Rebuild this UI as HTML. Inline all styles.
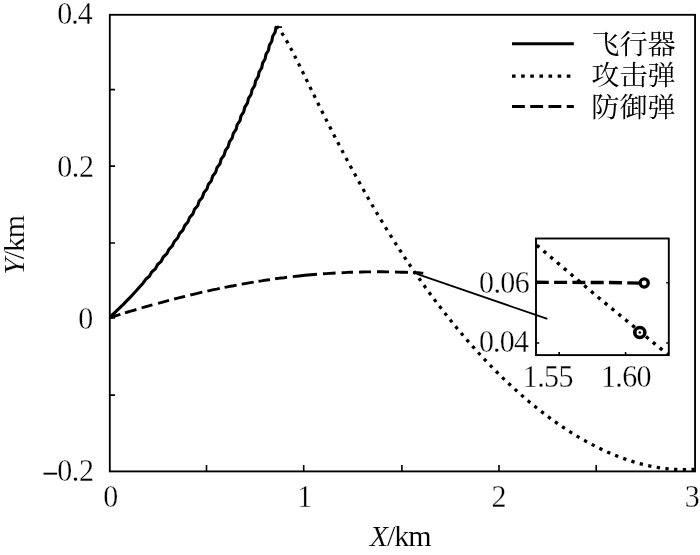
<!DOCTYPE html>
<html lang="zh"><head><meta charset="utf-8"><title>Trajectories</title>
<style>html,body{margin:0;padding:0;background:#fff;}body{width:700px;height:555px;overflow:hidden;}svg{display:block;will-change:transform;filter:grayscale(1);}text{font-family:"Liberation Serif",serif;fill:#000;stroke:#fff;stroke-width:0.3px;paint-order:fill stroke;}text.t{stroke-width:0.15px;}text.m{stroke:#000;stroke-width:0.5px;}text.c{font-family:"Liberation Serif","Noto Serif CJK SC",serif;stroke:none;}</style></head><body>
<svg width="700" height="555" viewBox="0 0 700 555" role="img" aria-label="Trajectories of aircraft, attack missile and defence missile">
<rect width="700" height="555" fill="#fff"/>
<rect x="109.80" y="14.80" width="585.25" height="456.60" fill="none" stroke="#000" stroke-width="1.85"/>
<path d="M206.50 471.40 v-6.40 M303.70 471.40 v-6.40 M401.90 471.40 v-6.40 M499.00 471.40 v-6.40 M596.20 471.40 v-6.40 M109.80 89.60 h5.20 M109.80 166.10 h5.20 M109.80 243.00 h5.20 M109.80 318.00 h5.20 M109.80 395.10 h5.20" stroke="#000" stroke-width="1.6" fill="none"/>
<text id="x0" transform="translate(103.25 507.00) scale(1 1.03)" font-size="30" letter-spacing="-1">0</text>
<text id="x1" transform="translate(297.25 507.00) scale(1 1.03)" font-size="30" letter-spacing="-1">1</text>
<text id="x2" transform="translate(491.49 507.00) scale(1 1.03)" font-size="30" letter-spacing="-1">2</text>
<text id="x3" transform="translate(684.68 507.00) scale(1 1.03)" font-size="30" letter-spacing="-1">3</text>
<text id="y04" transform="translate(57.15 24.00) scale(1 1.03)" font-size="30" letter-spacing="-0.913">0.4</text>
<text id="y02" transform="translate(57.15 177.00) scale(1 1.03)" font-size="30" letter-spacing="-0.334">0.2</text>
<text id="y0" transform="translate(78.26 329.00) scale(1 1.03)" font-size="30" letter-spacing="-1">0</text>
<text class="m" id="ymm" transform="translate(44.06 480.02) scale(1 1)" font-size="25.5" letter-spacing="-1">–</text>
<text id="ym02" transform="translate(57.18 481.00) scale(1 1.03)" font-size="30" letter-spacing="-0.352">0.2</text>
<text class="t" id="xlab" transform="translate(369.64 546.00) scale(1 1)" font-size="30" letter-spacing="-1.059"><tspan font-style="italic">X</tspan>/km</text>
<text class="t" id="ylab" transform="translate(23.88 274.82) rotate(-90)" font-size="30" letter-spacing="-1.158"><tspan font-style="italic">Y</tspan>/km</text>
<path d="M109.8 317.6 L112.5 316.8 L115.1 316.0 L117.8 315.1 L120.4 314.3 M125.0 312.9 L127.8 312.0 L130.7 311.2 L133.6 310.3 L136.4 309.5 M141.6 307.9 L144.3 307.2 L147.0 306.4 L149.7 305.6 L152.4 304.9 M158.1 303.3 L160.8 302.6 L163.6 301.8 L166.3 301.1 L169.0 300.4 M174.1 299.0 L176.8 298.3 L179.6 297.6 L182.3 297.0 L185.1 296.3 M190.3 295.0 L193.3 294.3 L196.3 293.6 L199.3 292.9 L202.3 292.2 M207.4 291.1 L210.5 290.4 L213.6 289.7 L216.7 289.1 L219.8 288.4 M224.6 287.4 L227.6 286.8 L230.6 286.2 L233.6 285.7 L236.6 285.1 M241.7 284.2 L244.7 283.6 L247.7 283.1 L250.7 282.6 L253.7 282.1 M258.5 281.3 L261.4 280.9 L264.2 280.4 L267.1 280.0 L270.0 279.6 M275.1 278.8 L278.1 278.4 L281.1 278.0 L284.1 277.7 L287.1 277.3 M292.8 276.6 L298.9 276.0 L304.9 275.3 L310.9 274.8 L317.0 274.3 M323.0 273.8 L326.1 273.6 L329.3 273.4 L332.5 273.2 L335.6 273.0 M341.6 272.7 L344.5 272.6 L347.3 272.4 L350.1 272.3 L353.0 272.2 M359.0 272.1 L362.0 272.0 L365.0 271.9 L368.0 271.9 L371.0 271.9 M377.0 271.8 L380.0 271.8 L383.0 271.8 L386.0 271.9 L389.0 271.9 M395.0 272.0 L398.2 272.1 L401.5 272.2 L404.8 272.3 L408.0 272.4 M413.0 272.6 L415.6 272.7 L418.1 272.8 L420.7 273.0 L423.3 273.1" fill="none" stroke="#000" stroke-width="2.9"/>
<path d="M109.8 317.2 L113.3 314.0 L116.8 310.7 L120.2 307.4 L123.6 304.1 L126.9 300.7 L130.2 297.3 L133.5 293.8 L136.7 290.3 L139.8 286.8 L143.0 283.2 L145.7 279.3 L149.4 276.3 L151.7 272.0 L155.4 268.8 L157.6 264.5 L161.2 261.3 L163.3 257.0 L166.9 253.7 L168.9 249.3 L172.3 245.9 L174.3 241.5 L177.7 238.0 L179.5 233.6 L182.9 230.1 L184.7 225.6 L187.9 222.0 L189.6 217.5 L192.9 213.9 L194.5 209.3 L197.7 205.7 L199.2 201.1 L202.3 197.4 L203.8 192.8 L206.9 189.1 L208.3 184.4 L211.4 180.7 L212.7 176.0 L215.7 172.2 L217.0 167.6 L220.0 163.7 L221.2 159.0 L224.1 155.2 L225.4 150.5 L228.2 146.6 L229.4 141.9 L232.2 138.0 L233.3 133.3 L236.1 129.3 L237.2 124.6 L240.0 120.6 L241.0 115.9 L243.7 111.9 L244.8 107.2 L247.4 103.1 L248.5 98.4 L251.1 94.4 L252.1 89.6 L254.7 85.6 L255.6 80.8 L258.2 76.7 L259.1 72.0 L261.7 67.9 L262.6 63.1 L265.1 59.0 L266.0 54.3 L268.5 50.2 L269.3 45.4 L271.8 41.3 L272.6 36.5 L275.1 32.3 L275.9 27.6 L276.8 26.4" fill="none" stroke="#000" stroke-width="3.1" stroke-linejoin="round"/>
<path d="M275.6 27.1 H282" fill="none" stroke="#000" stroke-width="1.7"/>
<path d="M276.80 26.34 L278.60 28.55 M281.73 32.94 L283.53 35.71 M286.32 40.34 L287.95 43.20 M290.55 47.94 L292.09 50.86 M294.57 55.65 L296.06 58.60 M298.47 63.43 L299.93 66.39 M302.31 71.24 L303.75 74.21 M306.11 79.06 L307.56 82.03 M309.92 86.88 L311.37 89.85 M313.81 94.84 L315.27 97.81 M317.73 102.79 L319.19 105.75 M321.67 110.73 L323.14 113.68 M325.64 118.65 L327.12 121.59 M329.64 126.55 L331.14 129.49 M333.67 134.44 L335.19 137.38 M337.74 142.31 L339.27 145.24 M341.85 150.16 L343.39 153.08 M346.00 157.99 L347.55 160.90 M350.18 165.80 L351.75 168.70 M354.42 173.58 L356.00 176.48 M358.69 181.34 L360.30 184.23 M363.02 189.07 L364.64 191.95 M367.40 196.78 L369.04 199.64 M371.83 204.45 L373.49 207.30 M376.31 212.09 L378.00 214.93 M380.86 219.70 L382.57 222.52 M385.46 227.27 L387.19 230.08 M390.13 234.80 L391.88 237.60 M394.86 242.29 L396.63 245.07 M399.54 249.57 L401.34 252.33 M404.28 256.80 L406.11 259.55 M409.09 263.99 L410.94 266.72 M413.96 271.13 L415.84 273.85 M418.91 278.23 L420.81 280.93 M423.92 285.28 L425.85 287.96 M429.00 292.28 L430.96 294.94 M434.16 299.23 L436.15 301.86 M439.39 306.11 L441.41 308.73 M444.70 312.95 L446.74 315.54 M450.07 319.71 L452.14 322.27 M455.52 326.40 L457.63 328.94 M461.05 333.03 L463.19 335.55 M466.67 339.59 L468.83 342.08 M472.36 346.08 L474.56 348.54 M478.14 352.49 L480.38 354.92 M484.02 358.82 L486.28 361.22 M489.98 365.07 L492.28 367.44 M496.03 371.23 L498.36 373.56 M502.17 377.30 L504.55 379.59 M508.41 383.26 L510.83 385.52 M514.75 389.12 L517.20 391.33 M521.20 394.87 L523.68 397.04 M527.74 400.51 L530.27 402.63 M534.39 406.01 L536.96 408.08 M541.15 411.39 L543.76 413.40 M548.02 416.62 L550.67 418.58 M555.00 421.70 L557.70 423.60 M562.10 426.61 L564.84 428.45 M569.31 431.36 L572.10 433.12 M576.65 435.91 L579.48 437.60 M584.11 440.26 L586.99 441.87 M591.69 444.40 L594.62 445.92 M599.39 448.30 L602.37 449.72 M607.22 451.94 L610.24 453.26 M615.16 455.31 L618.23 456.53 M623.23 458.39 L626.34 459.48 M631.41 461.15 L634.57 462.11 M639.70 463.56 L642.90 464.39 M648.17 465.63 L651.40 466.31 M656.73 467.29 L659.99 467.81 M665.36 468.53 L668.64 468.88 M674.05 469.32 L677.34 469.49 M682.76 469.63 L686.06 469.63 M691.48 469.46 L694.50 469.28" fill="none" stroke="#000" stroke-width="3.25"/>
<rect x="536.00" y="238.50" width="132.80" height="116.60" fill="#fff" stroke="#000" stroke-width="1.9"/>
<path d="M559.2 355.1 v-3.2 M625.6 355.1 v-3.2 M536.0 282.8 h3.2 M668.8 282.8 h-2.6 M536.0 343.0 h3.2 M668.8 343.0 h-2.6" stroke="#000" stroke-width="1.6" fill="none"/>
<path d="M416.7 273.9 L547.4 318.9" fill="none" stroke="#000" stroke-width="1.7"/>
<path d="M535.8 282.3 L609 282.5 L640.5 283.1" fill="none" stroke="#000" stroke-width="3.4" stroke-dasharray="13 5.3"/>
<path d="M536.5 245 L599 298 L660.4 348.4 L668.4 355" fill="none" stroke="#000" stroke-width="3.4" stroke-dasharray="3.4 5.5" stroke-dashoffset="-0.3"/>
<circle cx="644.2" cy="283" r="4.1" fill="#fff" stroke="#000" stroke-width="3.3"/>
<circle cx="639.8" cy="332.5" r="5.05" fill="#fff" stroke="#000" stroke-width="3.6"/>
<circle cx="639.8" cy="332.5" r="1.3" fill="#000"/>
<text id="i006" transform="translate(478.95 293.00) scale(1 1.03)" font-size="30" letter-spacing="-0.537">0.06</text>
<text id="i004" transform="translate(478.95 352.00) scale(1 1.03)" font-size="30" letter-spacing="-0.822">0.04</text>
<text id="i155" transform="translate(522.68 387.00) scale(1 1.03)" font-size="30" letter-spacing="-0.538">1.55</text>
<text id="i160" transform="translate(600.92 387.00) scale(1 1.03)" font-size="30" letter-spacing="-0.62">1.60</text>
<path d="M512 43.7 H573.85" stroke="#000" stroke-width="3" fill="none"/>
<path d="M512 76.2 H571.5" stroke="#000" stroke-width="3.3" stroke-dasharray="3.6 5.53" fill="none"/>
<path d="M512 106.6 H573.85" stroke="#000" stroke-width="3" stroke-dasharray="12.85 5.4" fill="none"/>
<text class="c" transform="translate(591.15 53.50) scale(1 0.97)" font-size="28.25" fill="#000">飞行器</text>
<text class="c" transform="translate(591.15 85.10) scale(1 0.97)" font-size="28.25" fill="#000">攻击弹</text>
<text class="c" transform="translate(591.15 116.50) scale(1 0.97)" font-size="28.25" fill="#000">防御弹</text>
</svg></body></html>
